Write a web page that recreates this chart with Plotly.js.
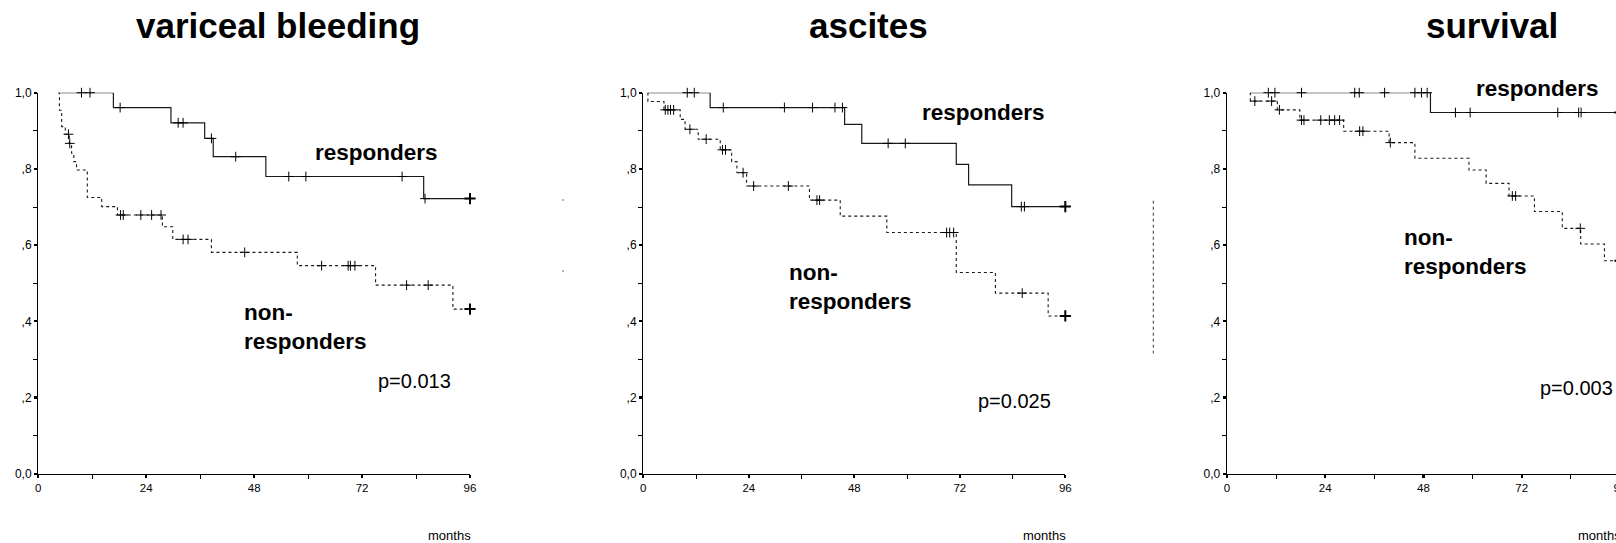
<!DOCTYPE html>
<html>
<head>
<meta charset="utf-8">
<script src="https://cdn.plot.ly/plotly-3.0.1.min.js"></script>
<style>
html,body{margin:0;padding:0;background:#fff;overflow:hidden;width:1616px;height:543px;}
#chart{width:1660px;height:543px;}
</style>
</head>
<body>
<div id="chart"></div>
<script>
// ---------------- DATA ----------------
const panelTitles = ["variceal bleeding", "ascites", "survival"];
const pValues = ["p=0.013", "p=0.025", "p=0.003"];
const xTickVals = [0, 24, 48, 72, 96];
const yTickVals = [0, 0.2, 0.4, 0.6, 0.8, 1.0];
const yTickText = ["0,0", ",2", ",4", ",6", ",8", "1,0"];

// variceal bleeding
const vbRespT = [4.4, 16.7, 29.5, 37.0, 38.9, 50.6, 85.7, 96];
const vbRespS = [1.0, 0.961, 0.921, 0.880, 0.832, 0.780, 0.722, 0.722];
const vbRespCens = [9.6, 11.5, 18.2, 31.1, 32.2, 38.5, 43.9, 55.7, 59.5, 80.9, 86.0];
const vbNonT = [4.4, 4.7, 5.2, 6.0, 6.9, 7.4, 7.9, 8.5, 10.9, 14.1, 17.6, 27.6, 29.9, 38.5, 57.6, 75.0, 92.2, 96];
const vbNonS = [1.0, 0.954, 0.911, 0.891, 0.867, 0.841, 0.819, 0.797, 0.725, 0.701, 0.679, 0.648, 0.615, 0.581, 0.546, 0.495, 0.432, 0.432];
const vbNonCens = [6.7, 7.0, 18.3, 18.9, 22.8, 25.2, 27.3, 32.2, 33.3, 45.9, 63.0, 68.9, 69.4, 70.4, 81.9, 86.7];

// ascites
const asRespT = [1.0, 15.2, 45.8, 49.7, 71.2, 74.0, 83.8, 96];
const asRespS = [1.0, 0.961, 0.917, 0.867, 0.812, 0.758, 0.701, 0.701];
const asRespCens = [10.0, 11.6, 18.2, 32.1, 38.5, 43.6, 45.3, 55.7, 59.6, 86.0, 86.7];
const asNonT = [1.0, 1.05, 4.7, 8.4, 9.5, 12.5, 17.5, 20.1, 21.3, 23.5, 37.8, 44.8, 55.4, 71.2, 80.1, 92.1, 96];
const asNonS = [1.0, 0.977, 0.955, 0.930, 0.904, 0.878, 0.850, 0.819, 0.790, 0.755, 0.718, 0.676, 0.633, 0.528, 0.474, 0.414, 0.414];
const asNonCens = [5.0, 5.6, 6.2, 6.9, 10.6, 14.3, 18.0, 18.7, 22.7, 25.1, 33.0, 39.5, 40.1, 69.0, 69.7, 70.6, 86.2];

// survival
const svRespT = [5.6, 49.7, 96];
const svRespS = [1.0, 0.948, 0.948];
const svRespCens = [10.1, 11.7, 18.2, 31.2, 32.3, 38.5, 45.9, 47.5, 48.9, 55.8, 59.4, 80.8, 85.9, 86.5];
const svNonT = [5.6, 5.7, 12.3, 17.8, 28.5, 39.6, 45.9, 59.1, 63.3, 68.9, 75.1, 81.9, 86.4, 92.2, 96];
const svNonS = [1.0, 0.978, 0.955, 0.928, 0.899, 0.869, 0.828, 0.797, 0.762, 0.729, 0.688, 0.644, 0.603, 0.559, 0.559];
const svNonCens = [6.8, 10.9, 12.8, 18.2, 18.8, 22.9, 25.0, 26.3, 27.5, 32.4, 33.2, 39.9, 69.7, 70.5, 86.3];

// ---------------- LAYOUT HELPERS ----------------
const W = 1660, H = 543;
const FONT = "Liberation Sans, Arial, Helvetica, sans-serif";
// plot-area pixel boxes: [left, right, top, bottom]
const boxes = [
  [38.3, 470.0, 92.7, 473.7],
  [643.3, 1065.3, 92.7, 473.7],
  [1227.0, 1620.0, 92.7, 473.7]
];
const titleX = [278, 868, 1492];

function stepAt(T, S, t) {
  let v = S[0];
  for (let i = 0; i < T.length; i++) { if (T[i] <= t) v = S[i]; }
  return v;
}

// label anchors: [months, survival, extra vertical shift px]
const panels = [
  {rT: vbRespT, rS: vbRespS, rC: vbRespCens, nT: vbNonT, nS: vbNonS, nC: vbNonCens,
   resp: [61.0, 0.844, 0], non: [45.2, 0.385], p: [75.2, 0.243]},
  {rT: asRespT, rS: asRespS, rC: asRespCens, nT: asNonT, nS: asNonS, nC: asNonCens,
   resp: [63.0, 0.949, 0], non: [32.6, 0.489], p: [75.7, 0.192]},
  {rT: svRespT, rS: svRespS, rC: svRespCens, nT: svNonT, nS: svNonS, nC: svNonCens,
   resp: [60.4, 1.0, 4.5], non: [42.7, 0.581], p: [76.0, 0.224]}
];

const traces = [];
const annotations = [];
const shapes = [];
const layout = {
  width: W, height: H,
  margin: {l: 0, r: 0, t: 0, b: 0},
  paper_bgcolor: "#fff", plot_bgcolor: "#fff",
  showlegend: false,
  font: {family: FONT, color: "#000"},
  annotations: annotations,
  shapes: shapes
};

panels.forEach((p, i) => {
  const n = i + 1;
  const xa = n === 1 ? "x" : "x" + n;
  const ya = n === 1 ? "y" : "y" + n;
  const b = boxes[i];
  layout[n === 1 ? "xaxis" : "xaxis" + n] = {
    domain: [b[0] / W, b[1] / W],
    range: [0, 96], anchor: ya,
    showline: true, linecolor: "#000", linewidth: 1.3,
    showgrid: false, zeroline: false,
    tickmode: "array", tickvals: xTickVals,
    ticks: "outside", ticklen: 3, tickwidth: 2.2, tickcolor: "#000",
    tickfont: {family: FONT, size: 11.5, color: "#000"},
    minor: {tickmode: "array", tickvals: [12, 36, 60, 84], ticks: "outside", ticklen: 4, tickwidth: 1, tickcolor: "#000", showgrid: false},
    fixedrange: true
  };
  layout[n === 1 ? "yaxis" : "yaxis" + n] = {
    domain: [(H - b[3]) / H, (H - b[2]) / H],
    range: [0, 1], anchor: xa,
    showline: true, linecolor: "#000", linewidth: 1.3,
    showgrid: false, zeroline: false,
    tickmode: "array", tickvals: yTickVals, ticktext: yTickText,
    ticks: "outside", ticklen: 3, tickwidth: 2.2, tickcolor: "#000",
    tickfont: {family: FONT, size: 12, color: "#000"},
    minor: {tickmode: "array", tickvals: [0.1, 0.3, 0.5, 0.7, 0.9], ticks: "outside", ticklen: 4, tickwidth: 1, tickcolor: "#000", showgrid: false},
    fixedrange: true
  };

  // responders (solid)
  traces.push({x: p.rT, y: p.rS, xaxis: xa, yaxis: ya, type: "scatter", mode: "lines",
    line: {shape: "hv", color: "#1a1a1a", width: 1.2}, hoverinfo: "skip"});
  traces.push({x: p.rC, y: p.rC.map(t => stepAt(p.rT, p.rS, t)), xaxis: xa, yaxis: ya,
    type: "scatter", mode: "markers", cliponaxis: false,
    marker: {symbol: "cross-thin", size: 7, line: {color: "#000", width: 1}}, hoverinfo: "skip"});
  // non-responders (dashed)
  traces.push({x: p.nT, y: p.nS, xaxis: xa, yaxis: ya, type: "scatter", mode: "lines",
    line: {shape: "hv", color: "#1a1a1a", width: 1.1, dash: "3px,3px"}, hoverinfo: "skip"});
  traces.push({x: p.nC, y: p.nC.map(t => stepAt(p.nT, p.nS, t)), xaxis: xa, yaxis: ya,
    type: "scatter", mode: "markers", cliponaxis: false,
    marker: {symbol: "cross-thin", size: 7, line: {color: "#000", width: 1}}, hoverinfo: "skip"});
  // bold end marks
  const lastR = p.rT.length - 1, lastN = p.nT.length - 1;
  traces.push({x: [p.rT[lastR], p.nT[lastN]], y: [p.rS[lastR], p.nS[lastN]], xaxis: xa, yaxis: ya,
    type: "scatter", mode: "markers", cliponaxis: false,
    marker: {symbol: "cross-thin", size: 8, line: {color: "#000", width: 2}}, hoverinfo: "skip"});

  // title
  annotations.push({xref: "paper", yref: "paper", x: titleX[i] / W, y: 1 - 26 / H,
    xanchor: "center", yanchor: "middle", showarrow: false,
    text: "<b>" + panelTitles[i] + "</b>", font: {family: FONT, size: 35, color: "#000"}});
  // labels
  annotations.push({xref: xa, yref: ya, x: p.resp[0], y: p.resp[1], yshift: p.resp[2], xanchor: "left", yanchor: "middle",
    showarrow: false, text: "<b>responders</b>", font: {family: FONT, size: 22.5, color: "#000"}});
  annotations.push({xref: xa, yref: ya, x: p.non[0], y: p.non[1], xanchor: "left", yanchor: "middle",
    align: "left", showarrow: false, text: "<b>non-<br>responders</b>", font: {family: FONT, size: 22.5, color: "#000"}});
  annotations.push({xref: xa, yref: ya, x: p.p[0], y: p.p[1], xanchor: "left", yanchor: "middle",
    showarrow: false, text: pValues[i], font: {family: FONT, size: 20, color: "#000"}});
  annotations.push({xref: xa, yref: "paper", x: 96, xshift: 3, y: 1 - 535 / H, xanchor: "right", yanchor: "middle",
    showarrow: false, text: "months", font: {family: FONT, size: 13, color: "#000"}});
});

// leftover legend fragments beside the panels (as in the source figure)
shapes.push({type: "line", xref: "paper", yref: "paper",
  x0: 1153.3 / W, x1: 1153.3 / W, y0: 1 - 200.7 / H, y1: 1 - 353.3 / H,
  line: {color: "#333", width: 1, dash: "dot"}});
[199, 270].forEach(py => shapes.push({type: "line", xref: "paper", yref: "paper",
  x0: 563 / W, x1: 563 / W, y0: 1 - py / H, y1: 1 - (py + 2) / H,
  line: {color: "#666", width: 1}}));

Plotly.newPlot("chart", traces, layout, {staticPlot: true, displayModeBar: false});
</script>
</body>
</html>
